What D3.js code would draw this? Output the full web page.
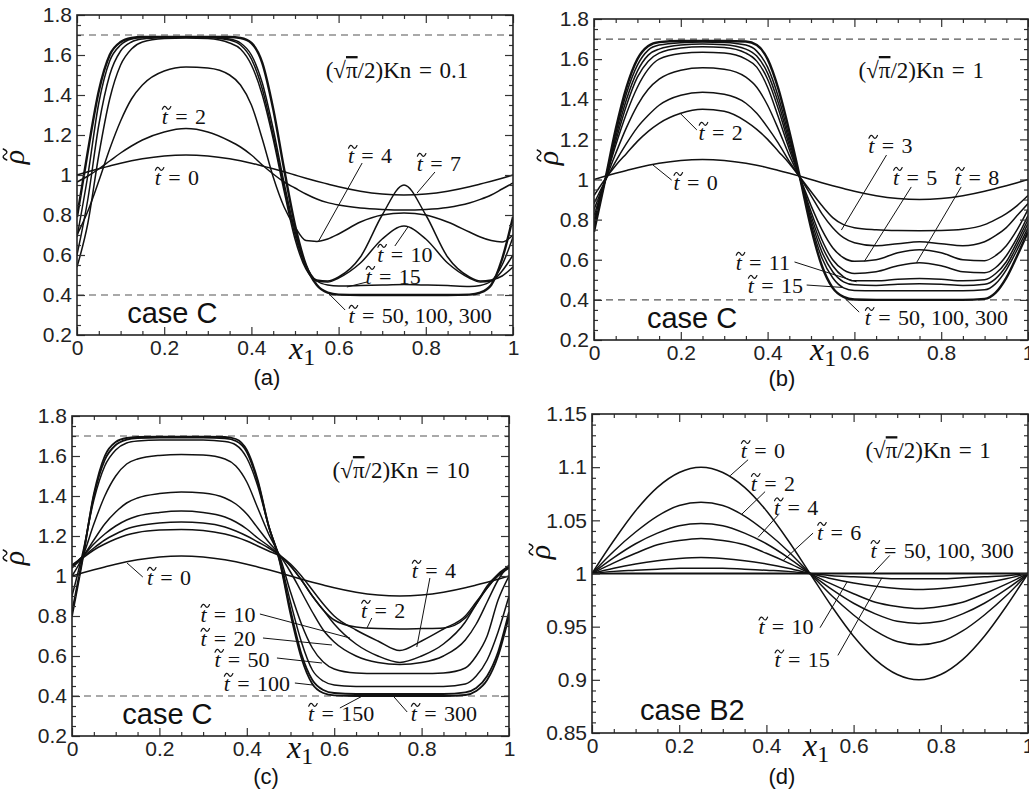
<!DOCTYPE html>
<html><head><meta charset="utf-8">
<script src="https://cdn.jsdelivr.net/npm/d3@7"></script>
<style>body{margin:0;background:#fff}</style>
</head><body>
<svg id="chart" width="1029" height="795"></svg>
<script>
// ---------------- DATA ----------------
const xGrid = [0,0.025,0.05,0.075,0.1,0.125,0.15,0.2,0.25,0.3,0.35,0.375,0.4,0.425,0.45,0.475,0.5,0.525,0.55,0.575,0.6,0.65,0.7,0.75,0.8,0.85,0.9,0.925,0.95,0.975,1];
const xGridD = [0,0.05,0.1,0.15,0.2,0.25,0.3,0.35,0.4,0.45,0.5,0.55,0.6,0.65,0.7,0.75,0.8,0.85,0.9,0.95,1];

const rhoT0 = [1.000,1.016,1.031,1.045,1.059,1.071,1.081,1.095,1.100,1.095,1.081,1.071,1.059,1.045,1.031,1.016,1.000,0.984,0.969,0.955,0.941,0.919,0.905,0.900,0.905,0.919,0.941,0.955,0.969,0.984,1.000];

// panel (a): Kn = 0.1
const aT2  = [0.965,0.995,1.030,1.070,1.110,1.145,1.175,1.215,1.232,1.215,1.170,1.140,1.100,1.050,1.005,0.965,0.935,0.905,0.880,0.862,0.850,0.835,0.828,0.825,0.828,0.838,0.860,0.878,0.900,0.930,0.960];
const aT4  = [0.700,0.820,0.970,1.130,1.270,1.380,1.450,1.520,1.540,1.535,1.500,1.450,1.350,1.180,0.990,0.840,0.740,0.672,0.668,0.680,0.705,0.765,0.800,0.810,0.800,0.765,0.715,0.690,0.672,0.665,0.700];
const aT7  = [0.540,0.760,1.100,1.380,1.550,1.630,1.665,1.682,1.685,1.682,1.660,1.630,1.550,1.400,1.180,0.920,0.680,0.530,0.475,0.470,0.490,0.590,0.800,0.950,0.800,0.590,0.490,0.470,0.475,0.495,0.540];
const aT10 = [0.600,0.880,1.250,1.500,1.620,1.665,1.680,1.688,1.690,1.688,1.675,1.650,1.580,1.430,1.200,0.940,0.700,0.540,0.470,0.465,0.485,0.560,0.680,0.745,0.680,0.560,0.485,0.465,0.470,0.520,0.600];
const aT15 = [0.690,1.000,1.360,1.570,1.650,1.680,1.688,1.690,1.690,1.690,1.680,1.660,1.600,1.460,1.230,0.960,0.720,0.550,0.470,0.450,0.445,0.447,0.450,0.452,0.450,0.447,0.443,0.448,0.470,0.550,0.690];
const aFin = [0.790,1.120,1.420,1.600,1.665,1.685,1.690,1.690,1.690,1.690,1.690,1.685,1.660,1.560,1.330,1.030,0.750,0.550,0.450,0.412,0.402,0.400,0.400,0.400,0.400,0.400,0.402,0.412,0.450,0.580,0.790];

// panel (b): Kn = 1
const bT2  = [0.920,1.000,1.070,1.130,1.190,1.240,1.280,1.330,1.350,1.340,1.290,1.250,1.200,1.140,1.080,1.010,0.940,0.870,0.810,0.775,0.760,0.750,0.746,0.745,0.746,0.752,0.775,0.800,0.830,0.870,0.920];
const bT3  = [0.880,0.990,1.090,1.180,1.260,1.320,1.370,1.420,1.435,1.425,1.380,1.330,1.260,1.180,1.090,1.010,0.920,0.830,0.760,0.710,0.685,0.670,0.680,0.690,0.680,0.670,0.690,0.720,0.760,0.820,0.880];
const bT5  = [0.850,0.990,1.130,1.260,1.370,1.450,1.500,1.545,1.557,1.550,1.510,1.460,1.370,1.250,1.120,1.005,0.870,0.750,0.660,0.610,0.592,0.600,0.635,0.650,0.635,0.600,0.595,0.620,0.670,0.750,0.850];
const bT8  = [0.820,0.990,1.170,1.330,1.460,1.550,1.600,1.628,1.634,1.630,1.600,1.560,1.460,1.310,1.150,1.005,0.840,0.700,0.600,0.550,0.532,0.540,0.570,0.585,0.570,0.540,0.535,0.560,0.620,0.710,0.820];
const bT11 = [0.800,0.990,1.190,1.370,1.510,1.590,1.630,1.656,1.662,1.658,1.630,1.590,1.500,1.350,1.170,1.005,0.820,0.670,0.570,0.515,0.495,0.495,0.503,0.507,0.503,0.495,0.500,0.530,0.590,0.690,0.800];
const bT15 = [0.780,0.990,1.210,1.400,1.540,1.620,1.650,1.670,1.675,1.672,1.650,1.615,1.530,1.380,1.190,1.005,0.800,0.640,0.540,0.490,0.475,0.472,0.478,0.480,0.478,0.472,0.478,0.505,0.570,0.670,0.780];
const bMid = [0.760,0.990,1.230,1.430,1.570,1.645,1.670,1.682,1.685,1.683,1.670,1.640,1.560,1.410,1.210,1.005,0.780,0.610,0.510,0.460,0.447,0.445,0.445,0.445,0.445,0.445,0.450,0.480,0.550,0.650,0.760];
const bFin = [0.740,0.990,1.250,1.460,1.600,1.665,1.685,1.690,1.690,1.690,1.688,1.670,1.600,1.450,1.240,1.005,0.760,0.570,0.460,0.415,0.402,0.400,0.400,0.400,0.400,0.400,0.405,0.435,0.510,0.620,0.740];

// panel (c): Kn = 10
const cT2   = [1.040,1.090,1.130,1.160,1.185,1.205,1.218,1.230,1.233,1.228,1.210,1.195,1.175,1.150,1.125,1.100,1.050,0.980,0.900,0.830,0.780,0.745,0.737,0.735,0.737,0.740,0.790,0.860,0.940,1.000,1.040];
const cT4   = [1.045,1.095,1.140,1.180,1.210,1.235,1.250,1.265,1.270,1.265,1.245,1.225,1.200,1.170,1.140,1.105,1.060,1.000,0.930,0.860,0.800,0.730,0.675,0.627,0.675,0.735,0.800,0.870,0.940,1.005,1.045];
const cT10  = [1.050,1.100,1.160,1.210,1.250,1.280,1.300,1.318,1.325,1.318,1.295,1.270,1.235,1.190,1.150,1.105,1.050,0.980,0.900,0.830,0.760,0.660,0.600,0.568,0.600,0.660,0.770,0.860,0.950,1.010,1.050];
const cT20  = [1.055,1.100,1.180,1.260,1.320,1.365,1.390,1.412,1.420,1.415,1.390,1.360,1.310,1.240,1.170,1.105,1.020,0.920,0.820,0.730,0.670,0.600,0.567,0.557,0.567,0.600,0.680,0.760,0.870,0.980,1.055];
const cT50  = [1.000,1.100,1.260,1.400,1.500,1.560,1.585,1.603,1.608,1.605,1.585,1.550,1.470,1.340,1.210,1.100,0.920,0.760,0.640,0.570,0.535,0.515,0.512,0.512,0.512,0.515,0.540,0.600,0.700,0.880,1.000];
const cT100 = [0.900,1.120,1.380,1.550,1.630,1.665,1.675,1.680,1.680,1.680,1.672,1.655,1.590,1.450,1.250,1.090,0.870,0.670,0.530,0.475,0.455,0.448,0.447,0.447,0.447,0.448,0.460,0.500,0.580,0.720,0.900];
const cT150 = [0.820,1.100,1.400,1.580,1.655,1.682,1.690,1.692,1.692,1.692,1.688,1.675,1.620,1.470,1.250,1.080,0.830,0.610,0.480,0.430,0.415,0.410,0.410,0.410,0.410,0.410,0.418,0.440,0.500,0.620,0.820];
const cT300 = [0.800,1.090,1.410,1.600,1.670,1.690,1.695,1.697,1.697,1.697,1.695,1.685,1.630,1.480,1.250,1.075,0.810,0.590,0.460,0.415,0.403,0.400,0.400,0.400,0.400,0.400,0.405,0.425,0.480,0.600,0.800];

// panel (d): case B2, Kn = 1
const dT0  = [1.000,1.031,1.059,1.081,1.095,1.100,1.095,1.081,1.059,1.031,1.000,0.969,0.941,0.919,0.905,0.900,0.905,0.919,0.941,0.969,1.000];
const dT2  = [1.000,1.021,1.039,1.054,1.064,1.067,1.064,1.054,1.039,1.021,1.000,0.979,0.961,0.946,0.936,0.933,0.936,0.946,0.961,0.979,1.000];
const dT4  = [1.000,1.015,1.028,1.038,1.045,1.047,1.045,1.038,1.028,1.015,1.000,0.985,0.972,0.962,0.955,0.953,0.955,0.962,0.972,0.985,1.000];
const dT6  = [1.000,1.010,1.019,1.027,1.031,1.033,1.031,1.027,1.019,1.010,1.000,0.990,0.981,0.973,0.969,0.967,0.969,0.973,0.981,0.990,1.000];
const dT10 = [1.000,1.005,1.009,1.012,1.014,1.015,1.014,1.012,1.009,1.005,1.000,0.995,0.991,0.988,0.986,0.985,0.986,0.988,0.991,0.995,1.000];
const dT15 = [1.000,1.002,1.003,1.004,1.005,1.005,1.005,1.004,1.003,1.002,1.000,0.998,0.997,0.996,0.995,0.995,0.995,0.996,0.997,0.998,1.000];
const dFin = [1.000,1.000,1.000,1.000,1.000,1.000,1.000,1.000,1.000,1.000,1.000,1.000,1.000,1.000,1.000,1.000,1.000,1.000,1.000,1.000,1.000];

// ticks
const xTicks = [0,0.2,0.4,0.6,0.8,1];
const xTickLabels = ["0","0.2","0.4","0.6","0.8","1"];
const yTicksC = [0.2,0.4,0.6,0.8,1,1.2,1.4,1.6,1.8];
const yTickLabelsC = ["0.2","0.4","0.6","0.8","1","1.2","1.4","1.6","1.8"];
const yTicksD = [0.85,0.9,0.95,1,1.05,1.1,1.15];
const yTickLabelsD = ["0.85","0.9","0.95","1","1.05","1.1","1.15"];
const dashedLevels = [1.7, 0.4];

// annotation texts
const knValues = ["0.1","1","10","1"];
const caseNames = ["case C","case C","case C","case B2"];
const panelTags = ["(a)","(b)","(c)","(d)"];

// ---------------- DRAW ----------------
const SERIF = "'Liberation Serif','Times New Roman',serif";
const SANS = "'Liberation Sans',Arial,Helvetica,sans-serif";
const svg = d3.select('#chart');

const panels = [
  { box:{l:77,r:513,t:15,b:335}, yDom:[0.2,1.8], yT:yTicksC, yL:yTickLabelsC, yMinor:0.05, xs:xGrid, dashed:true,
    series:[[rhoT0,1.5],[aT2,1.5],[aT4,1.5],[aT7,1.5],[aT10,1.5],[aT15,1.5],[aFin,2.4]],
    kn:[0.734,1.525], cs:[0.115,0.26], tag:[267,385], xl:[289,359], yl:[19,157],
    labels:[
      ["2",0.245,1.295,null],["0",0.229,0.99,null],
      ["4",0.672,1.10,[0.654,1.06,0.553,0.665]],
      ["7",0.83,1.06,[0.821,1.015,0.78,0.91]],
      ["10",0.752,0.605,[0.729,0.645,0.759,0.74]],
      ["15",0.725,0.495,[0.665,0.465,0.619,0.44]],
      ["50, 100, 300",0.787,0.30,[0.615,0.325,0.576,0.41]]
    ]},
  { box:{l:594,r:1028,t:19,b:340}, yDom:[0.2,1.8], yT:yTicksC, yL:yTickLabelsC, yMinor:0.05, xs:xGrid, dashed:true,
    series:[[rhoT0,1.5],[bT2,1.5],[bT3,1.5],[bT5,1.5],[bT8,1.5],[bT11,1.5],[bT15,1.5],[bMid,1.5],[bFin,2.4]],
    kn:[0.754,1.546], cs:[0.122,0.26], tag:[782,386], xl:[810,360], yl:[553,158],
    labels:[
      ["2",0.292,1.237,[0.237,1.247,0.198,1.331]],
      ["0",0.234,0.987,[0.179,0.997,0.136,1.072]],
      ["3",0.683,1.172,[0.674,1.122,0.57,0.748]],
      ["5",0.74,1.012,[0.731,0.963,0.623,0.592]],
      ["8",0.883,1.012,[0.846,0.963,0.743,0.585]],
      ["11",0.389,0.589,[0.462,0.589,0.605,0.49]],
      ["15",0.418,0.474,[0.49,0.474,0.572,0.462]],
      ["50, 100, 300",0.789,0.314,[0.611,0.339,0.577,0.41]]
    ]},
  { box:{l:72,r:509,t:416,b:736}, yDom:[0.2,1.8], yT:yTicksC, yL:yTickLabelsC, yMinor:0.05, xs:xGrid, dashed:true,
    series:[[rhoT0,1.5],[cT2,1.5],[cT4,1.5],[cT10,1.5],[cT20,1.5],[cT50,1.5],[cT100,1.5],[cT150,1.8],[cT300,1.8]],
    kn:[0.753,1.53], cs:[0.115,0.26], tag:[266,784], xl:[287,758], yl:[19,558],
    labels:[
      ["0",0.222,0.995,[0.162,0.995,0.126,1.065]],
      ["4",0.828,1.03,[0.819,0.99,0.789,0.645]],
      ["2",0.712,0.83,[0.686,0.79,0.675,0.74]],
      ["10",0.357,0.81,[0.43,0.81,0.636,0.69]],
      ["20",0.357,0.69,[0.437,0.69,0.595,0.655]],
      ["50",0.389,0.585,[0.469,0.59,0.572,0.565]],
      ["100",0.423,0.465,[0.51,0.465,0.551,0.455]],
      ["150",0.616,0.315,[0.613,0.34,0.675,0.412]],
      ["300",0.851,0.315,[0.767,0.32,0.735,0.40]]
    ]},
  { box:{l:592,r:1028,t:414,b:733}, yDom:[0.85,1.15], yT:yTicksD, yL:yTickLabelsD, yMinor:0.01, xs:xGridD, dashed:false,
    series:[[dT0,1.5],[dT2,1.5],[dT4,1.5],[dT6,1.5],[dT10,1.5],[dT15,1.5],[dFin,1.8]],
    kn:[0.771,1.116], cs:[0.11,0.862], tag:[782,784], xl:[803,756], yl:[545,552],
    labels:[
      ["0",0.392,1.116,[0.358,1.107,0.317,1.092]],
      ["2",0.415,1.085,[0.397,1.077,0.344,1.056]],
      ["4",0.468,1.062,[0.427,1.055,0.381,1.034]],
      ["6",0.567,1.039,[0.507,1.038,0.438,1.012]],
      ["50, 100, 300",0.803,1.022,[0.683,1.017,0.644,1.0]],
      ["10",0.445,0.95,[0.523,0.949,0.585,0.992]],
      ["15",0.482,0.919,[0.564,0.923,0.665,0.996]]
    ]}
];

const SP = '\u2004';

function tilde(g, cx, cy, w, sw) {
  const h = w * 0.16;
  g.append('path')
    .attr('d', `M${cx - w/2},${cy + h} Q${cx - w/4},${cy - h*2.6} ${cx},${cy} T${cx + w/2},${cy - h}`)
    .attr('fill', 'none').attr('stroke', '#111').attr('stroke-width', sw).attr('stroke-linecap', 'round');
}

panels.forEach((p, pi) => {
  const B = p.box;
  const x = d3.scaleLinear().domain([0,1]).range([B.l, B.r]);
  const y = d3.scaleLinear().domain(p.yDom).range([B.b, B.t]);
  const g = svg.append('g');
  const cid = 'clip' + pi;
  svg.append('clipPath').attr('id', cid).append('rect')
    .attr('x', B.l).attr('y', B.t).attr('width', B.r - B.l).attr('height', B.b - B.t);

  if (p.dashed) {
    dashedLevels.forEach(v => {
      g.append('line').attr('x1', B.l).attr('x2', B.r).attr('y1', y(v)).attr('y2', y(v))
        .attr('stroke', '#555').attr('stroke-width', 1.2).attr('stroke-dasharray', '7,5');
    });
  }

  const line = d3.line().x((d, i) => x(p.xs[i])).y(d => y(d)).curve(d3.curveMonotoneX);
  const cg = g.append('g').attr('clip-path', `url(#${cid})`);
  p.series.forEach(([vals, w]) => {
    cg.append('path').attr('d', line(vals)).attr('fill', 'none')
      .attr('stroke', '#111').attr('stroke-width', w).attr('stroke-linejoin', 'round');
  });

  const yMin = d3.range(p.yDom[0], p.yDom[1] + 1e-9, p.yMinor).filter(v => !p.yT.some(t => Math.abs(t - v) < 1e-6));
  const xMin = d3.range(0, 1.0001, 0.05).filter(v => !xTicks.some(t => Math.abs(t - v) < 1e-6));
  const styleAxis = sel => {
    sel.select('.domain').remove();
    sel.selectAll('line').attr('stroke', '#333').attr('stroke-width', 1.2);
    sel.selectAll('text').attr('font-family', SANS).attr('font-size', 21).attr('fill', '#222');
  };
  g.append('g').attr('transform', `translate(0,${B.b})`)
    .call(d3.axisBottom(x).tickValues(xTicks).tickFormat((d, i) => xTickLabels[i]).tickSize(-8).tickPadding(5)).call(styleAxis);
  g.append('g').attr('transform', `translate(0,${B.b})`)
    .call(d3.axisBottom(x).tickValues(xMin).tickFormat('').tickSize(-4)).call(styleAxis);
  g.append('g').attr('transform', `translate(0,${B.t})`)
    .call(d3.axisTop(x).tickValues(xTicks).tickFormat('').tickSize(-8)).call(styleAxis);
  g.append('g').attr('transform', `translate(0,${B.t})`)
    .call(d3.axisTop(x).tickValues(xMin).tickFormat('').tickSize(-4)).call(styleAxis);
  g.append('g').attr('transform', `translate(${B.l},0)`)
    .call(d3.axisLeft(y).tickValues(p.yT).tickFormat((d, i) => p.yL[i]).tickSize(-8).tickPadding(5)).call(styleAxis);
  g.append('g').attr('transform', `translate(${B.l},0)`)
    .call(d3.axisLeft(y).tickValues(yMin).tickFormat('').tickSize(-4)).call(styleAxis);
  g.append('g').attr('transform', `translate(${B.r},0)`)
    .call(d3.axisRight(y).tickValues(p.yT).tickFormat('').tickSize(-8)).call(styleAxis);
  g.append('g').attr('transform', `translate(${B.r},0)`)
    .call(d3.axisRight(y).tickValues(yMin).tickFormat('').tickSize(-4)).call(styleAxis);

  g.append('rect').attr('x', B.l).attr('y', B.t).attr('width', B.r - B.l).attr('height', B.b - B.t)
    .attr('fill', 'none').attr('stroke', '#222').attr('stroke-width', 1.6);

  // curve labels with leaders
  const FS = 22;
  p.labels.forEach(([txt, lx, ly, lead]) => {
    if (lead) {
      g.append('line').attr('x1', x(lead[0])).attr('y1', y(lead[1])).attr('x2', x(lead[2])).attr('y2', y(lead[3]))
        .attr('stroke', '#111').attr('stroke-width', 1);
    }
    const base = y(ly) + 0.35 * FS;
    const t = g.append('text').attr('x', 0).attr('y', base)
      .attr('font-family', SERIF).attr('font-size', FS).attr('fill', '#111');
    t.append('tspan').attr('font-style', 'italic').text('t');
    t.append('tspan').text(SP + '=' + SP + txt);
    const node = t.node();
    const W = node.getComputedTextLength();
    const tw = node.getSubStringLength(0, 1);
    const x0 = x(lx) - W / 2;
    t.attr('x', x0);
    tilde(g, x0 + tw * 0.55 + 1.5, base - 0.72 * FS, 8.5, 1.2);
  });

  // Kn label
  const k = g.append('text').attr('x', x(p.kn[0])).attr('y', y(p.kn[1])).attr('dy', '0.35em')
    .attr('text-anchor', 'middle').attr('font-family', SERIF).attr('font-size', 23).attr('fill', '#111');
  k.append('tspan').text('(\u221A');
  k.append('tspan').attr('text-decoration', 'overline').text('\u03C0');
  k.append('tspan').text('/2)Kn' + SP + '=' + SP + knValues[pi]);

  g.append('text').attr('x', x(p.cs[0])).attr('y', y(p.cs[1]))
    .attr('font-family', SANS).attr('font-size', 29).attr('fill', '#111').text(caseNames[pi]);

  g.append('text').attr('x', p.tag[0]).attr('y', p.tag[1]).attr('text-anchor', 'middle')
    .attr('font-family', SANS).attr('font-size', 22).attr('fill', '#111').text(panelTags[pi]);

  const xl = g.append('text').attr('x', p.xl[0]).attr('y', p.xl[1])
    .attr('font-family', SERIF).attr('fill', '#111');
  xl.append('tspan').attr('font-style', 'italic').attr('font-size', 32).text('x');
  xl.append('tspan').attr('font-size', 24).attr('dy', 6).text('1');

  // y label (rotated rho with tilde)
  const yg = g.append('g').attr('transform', `translate(${p.yl[0]},${p.yl[1]}) rotate(-90)`);
  yg.append('text').attr('x', 0).attr('y', 5).attr('text-anchor', 'middle')
    .attr('font-family', SERIF).attr('font-style', 'italic').attr('font-size', 30).attr('fill', '#111')
    .text('\u03C1');
  tilde(yg, 2.5, -14, 11, 1.4);
});
</script>
</body></html>
